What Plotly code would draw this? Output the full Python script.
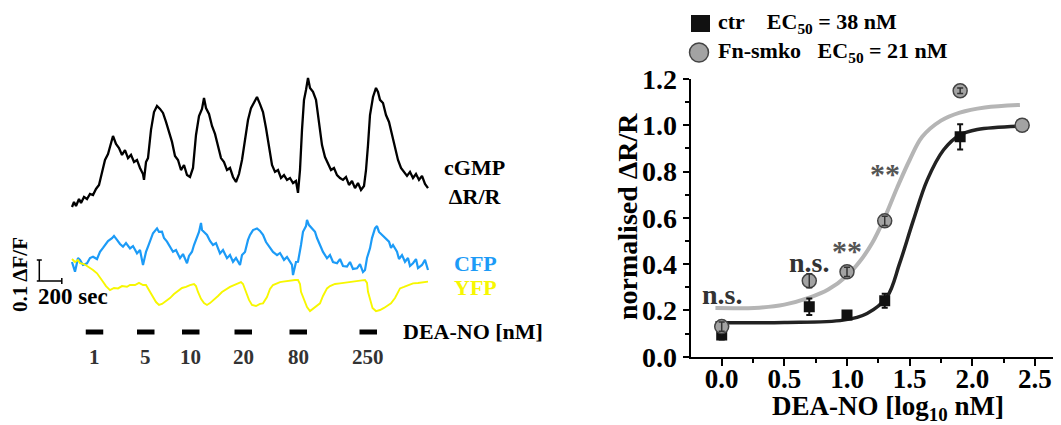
import plotly.graph_objects as go

W, H = 1061, 425
FONT = "Liberation Serif"

# ---------------- left panel: single-cell time courses ----------------
# time in seconds, values relative to trace start (0.1 = 0.1 dR/R or dF/F)
cgmp_t = [0,16,32,56,72,96,120,144,168,192,216,240,264,288,312,328,352,376,400,424,448,472,496,520,544,568,576,592,608,632,656,680,704,728,752,776,800,824,848,872,896,920,944,968,992,1016,1040,1056,1072,1096,1120,1144,1168,1192,1216,1240,1264,1288,1312,1336,1360,1384,1408,1432,1456,1480,1504,1528,1552,1576,1600,1624,1648,1672,1696,1720,1744,1768,1792,1808,1824,1840,1856,1872,1888,1904,1928,1952,1976,2000,2024,2048,2072,2096,2120,2144,2168,2192,2216,2240,2264,2288,2312,2336,2352,2368,2384,2408,2432,2448,2464,2488,2512,2536,2560,2584,2608,2632,2656,2680,2704,2728,2752,2776,2800,2824,2848]
cgmp_v = [0.000,0.024,0.005,0.038,0.019,0.048,0.038,0.062,0.057,0.086,0.105,0.167,0.224,0.252,0.305,0.338,0.300,0.281,0.248,0.271,0.233,0.248,0.214,0.224,0.186,0.157,0.129,0.214,0.233,0.367,0.452,0.481,0.467,0.448,0.405,0.352,0.310,0.243,0.224,0.176,0.200,0.152,0.143,0.186,0.343,0.433,0.467,0.519,0.471,0.443,0.386,0.348,0.286,0.233,0.214,0.176,0.186,0.143,0.119,0.157,0.224,0.319,0.414,0.471,0.500,0.524,0.490,0.452,0.376,0.281,0.200,0.167,0.176,0.138,0.152,0.129,0.138,0.114,0.124,0.067,0.176,0.367,0.510,0.557,0.614,0.567,0.548,0.510,0.414,0.295,0.238,0.210,0.176,0.186,0.152,0.138,0.129,0.143,0.105,0.124,0.090,0.114,0.081,0.100,0.176,0.295,0.438,0.524,0.567,0.548,0.510,0.495,0.438,0.405,0.343,0.295,0.224,0.186,0.167,0.148,0.167,0.138,0.157,0.129,0.148,0.110,0.090]

cfp_t = [0,24,48,64,88,120,144,168,200,224,248,264,288,320,336,360,384,408,432,464,488,520,544,568,592,608,632,648,680,696,720,736,760,784,808,832,864,888,920,936,960,976,1000,1016,1032,1040,1056,1080,1104,1128,1152,1184,1208,1240,1264,1288,1312,1344,1360,1384,1408,1424,1448,1480,1504,1528,1552,1584,1608,1640,1664,1696,1720,1760,1768,1792,1808,1832,1848,1872,1880,1896,1920,1944,1960,1984,2008,2040,2064,2088,2120,2144,2168,2200,2224,2248,2280,2304,2328,2344,2360,2384,2400,2424,2440,2456,2480,2504,2536,2552,2568,2600,2616,2640,2664,2688,2704,2728,2752,2768,2800,2824,2848]
cfp_v = [0.000,-0.046,0.019,0.010,-0.014,-0.006,0.019,0.025,0.014,0.049,0.067,0.081,0.100,0.113,0.124,0.105,0.086,0.073,0.090,0.065,0.076,0.041,0.057,-0.014,0.048,0.073,0.114,0.137,0.160,0.143,0.144,0.114,0.097,0.071,0.049,0.057,0.018,0.038,-0.006,0.029,0.049,0.081,0.113,0.143,0.186,0.152,0.143,0.129,0.100,0.081,0.090,0.041,0.057,0.018,0.033,0.001,0.019,-0.014,0.033,0.048,0.105,0.129,0.152,0.160,0.148,0.129,0.095,0.065,0.048,0.033,0.043,0.010,0.024,-0.014,-0.062,0.000,0.001,0.081,0.144,0.171,0.200,0.176,0.162,0.144,0.114,0.081,0.048,0.018,0.033,0.000,-0.006,0.014,-0.019,-0.022,0.000,-0.033,-0.030,-0.010,-0.048,-0.038,0.019,0.065,0.114,0.160,0.171,0.143,0.129,0.114,0.097,0.067,0.081,0.049,0.014,0.033,0.001,0.019,-0.019,-0.006,0.014,-0.029,-0.014,0.010,-0.038]

yfp_t = [0,24,48,64,96,120,144,168,200,224,248,272,304,336,368,400,440,464,504,536,568,592,608,632,648,672,696,720,752,784,816,848,880,912,944,976,992,1008,1032,1056,1080,1104,1136,1168,1200,1232,1264,1296,1328,1352,1368,1392,1416,1440,1472,1504,1528,1560,1584,1608,1640,1664,1688,1720,1752,1784,1808,1824,1832,1856,1880,1904,1928,1952,1984,2008,2040,2064,2104,2144,2184,2224,2248,2288,2320,2344,2360,2368,2384,2404,2432,2464,2496,2528,2552,2584,2624,2656,2688,2728,2768,2808,2848]
yfp_v = [0.000,-0.014,-0.005,-0.020,-0.024,-0.033,-0.044,-0.052,-0.068,-0.086,-0.108,-0.129,-0.148,-0.138,-0.140,-0.129,-0.132,-0.124,-0.124,-0.114,-0.124,-0.124,-0.140,-0.162,-0.181,-0.205,-0.219,-0.214,-0.200,-0.186,-0.167,-0.152,-0.138,-0.133,-0.124,-0.119,-0.129,-0.157,-0.190,-0.210,-0.219,-0.210,-0.195,-0.176,-0.157,-0.143,-0.133,-0.124,-0.114,-0.110,-0.119,-0.157,-0.195,-0.219,-0.224,-0.214,-0.211,-0.181,-0.143,-0.124,-0.114,-0.110,-0.108,-0.105,-0.100,-0.100,-0.100,-0.119,-0.156,-0.195,-0.229,-0.248,-0.238,-0.224,-0.211,-0.176,-0.140,-0.129,-0.119,-0.116,-0.112,-0.110,-0.108,-0.105,-0.102,-0.100,-0.114,-0.156,-0.195,-0.233,-0.248,-0.243,-0.233,-0.219,-0.211,-0.186,-0.140,-0.133,-0.124,-0.116,-0.114,-0.110,-0.108]

drug_conc = ["1", "5", "10", "20", "80", "250"]
drug_start = [110, 520, 880, 1300, 1740, 2300]
drug_len = 140
scale_sec = 200
scale_amp = 0.1

# ---------------- right panel: concentration-response ----------------
log_conc = [0.0, 0.699, 1.0, 1.301, 1.903, 2.398]
ctr_mean = [0.094, 0.216, 0.180, 0.242, 0.950, 1.000]
ctr_sem = [0.020, 0.036, 0.010, 0.030, 0.055, 0.0]
ko_mean = [0.130, 0.328, 0.367, 0.587, 1.149, 1.000]
ko_sem = [0.020, 0.030, 0.020, 0.020, 0.012, 0.0]

ctr_fit_x = [-0.05, 0.5, 0.97, 1.16, 1.32, 1.42, 1.53, 1.64, 1.77, 1.9, 2.04, 2.4]
ctr_fit_y = [0.147, 0.148, 0.158, 0.187, 0.259, 0.403, 0.590, 0.763, 0.893, 0.958, 0.982, 0.997]
ko_fit_x = [-0.05, 0.3, 0.5, 0.7, 0.85, 1.0, 1.1, 1.2, 1.3, 1.4, 1.5, 1.6, 1.75, 1.9, 2.1, 2.38]
ko_fit_y = [0.210, 0.212, 0.225, 0.255, 0.290, 0.350, 0.410, 0.490, 0.600, 0.730, 0.850, 0.950, 1.020, 1.055, 1.077, 1.088]

sig_x = [0.0, 0.699, 1.0, 1.301, 1.903]
sig_y = [0.267, 0.409, 0.461, 0.793, 1.217]
sig_text = ["n.s.", "n.s.", "**", "**", "n.s."]

assert len(cgmp_t) == len(cgmp_v)
assert len(cfp_t) == len(cfp_v)
assert len(yfp_t) == len(yfp_v)

# ---------------- layout geometry ----------------
# the page body adds an 8 px margin; positions below are given in window pixels
OFF = 8
PX_PER_SEC = 1 / 8.0
UNIT_PER_PX = 0.1 / 21.0
TRACE_X0_PX = 72
LEFT_W = 530.5
CGMP_BASE_PX = 207
CFP_BASE_PX = 262
YFP_BASE_PX = 259
AX2_X0, AX2_X_ZERO, AX2_PX_PER_UNIT = 690.7, 721.7, 125.3
AX2_Y_BOTTOM, AX2_Y_TOP = 356.7, 79


def fx(x):
    return (x - OFF) / W


def fy(y):
    return 1 - (y - OFF) / H


def yscr(py):
    return (H - py + OFF) * UNIT_PER_PX


BLUE = "#1c9bf7"
YELLOW = "#f7f700"

fig = go.Figure()

# left traces
fig.add_trace(go.Scatter(x=cgmp_t, y=[v + yscr(CGMP_BASE_PX) for v in cgmp_v], mode="lines",
                         line=dict(color="black", width=2.3), xaxis="x", yaxis="y", showlegend=False))
fig.add_trace(go.Scatter(x=cfp_t, y=[v + yscr(CFP_BASE_PX) for v in cfp_v], mode="lines",
                         line=dict(color=BLUE, width=2.2), xaxis="x", yaxis="y", showlegend=False))
fig.add_trace(go.Scatter(x=yfp_t, y=[v + yscr(YFP_BASE_PX) for v in yfp_v], mode="lines",
                         line=dict(color=YELLOW, width=1.9), xaxis="x", yaxis="y", showlegend=False))

# drug application bars
bx, by = [], []
for s in drug_start:
    bx += [s, s + drug_len, None]
    by += [yscr(332), yscr(332), None]
fig.add_trace(go.Scatter(x=bx, y=by, mode="lines", line=dict(color="black", width=5),
                         xaxis="x", yaxis="y", showlegend=False))

# right panel: fits
fig.add_trace(go.Scatter(x=ctr_fit_x, y=ctr_fit_y, mode="lines", line=dict(color="#222222", width=3.5, shape="spline"),
                         xaxis="x2", yaxis="y2", showlegend=False))
fig.add_trace(go.Scatter(x=ko_fit_x, y=ko_fit_y, mode="lines", line=dict(color="#b5b5b5", width=4, shape="spline"),
                         xaxis="x2", yaxis="y2", showlegend=False))
# data points
fig.add_trace(go.Scatter(x=log_conc, y=ctr_mean, mode="markers",
                         marker=dict(symbol="square", size=11, color="#111111"),
                         error_y=dict(type="data", array=ctr_sem, color="#111111", thickness=2, width=3),
                         xaxis="x2", yaxis="y2", showlegend=False))
fig.add_trace(go.Scatter(x=log_conc, y=ko_mean, mode="markers",
                         marker=dict(symbol="circle", size=14, color="#a3a3a3", line=dict(color="#444444", width=1.5)),
                         xaxis="x2", yaxis="y2", showlegend=False))
fig.add_trace(go.Scatter(x=log_conc[:-1], y=ko_mean[:-1], mode="markers",
                         marker=dict(size=1, opacity=0),
                         error_y=dict(type="data", array=ko_sem[:-1], color="#333333", thickness=1.5, width=3),
                         xaxis="x2", yaxis="y2", showlegend=False, hoverinfo="skip"))

tick_font = dict(family=FONT, size=28, color="black", weight="bold")
xtick_font = dict(family=FONT, size=27, color="black", weight="bold")

x2_left = AX2_X0 - OFF
x2_range = [(AX2_X0 - AX2_X_ZERO) / AX2_PX_PER_UNIT, (W + OFF - AX2_X_ZERO) / AX2_PX_PER_UNIT]

fig.update_layout(
    template="none",
    width=W, height=H, autosize=False,
    margin=dict(l=0, r=0, t=0, b=0, pad=0, autoexpand=False),
    paper_bgcolor="white", plot_bgcolor="rgba(0,0,0,0)",
    showlegend=False,
    xaxis=dict(domain=[0, LEFT_W / W],
               range=[(OFF - TRACE_X0_PX) / PX_PER_SEC, (LEFT_W + OFF - TRACE_X0_PX) / PX_PER_SEC],
               visible=False, fixedrange=True, automargin=False),
    yaxis=dict(domain=[0, 1], range=[0, H * UNIT_PER_PX], visible=False, fixedrange=True, automargin=False),
    xaxis2=dict(domain=[x2_left / W, 1.0], range=x2_range, anchor="y2", automargin=False,
                showline=True, linecolor="black", linewidth=2, mirror=False,
                ticks="outside", ticklen=7, tickwidth=2, tickcolor="black",
                tick0=0, dtick=0.5, tickformat=".1f", tickfont=xtick_font, ticklabelstandoff=-10,
                minor=dict(dtick=0.25, tick0=0, ticks="outside", ticklen=4, tickwidth=2, tickcolor="black"),
                showgrid=False, zeroline=False),
    yaxis2=dict(domain=[fy(AX2_Y_BOTTOM), fy(AX2_Y_TOP)], range=[0, 1.2], anchor="x2", automargin=False,
                showline=True, linecolor="black", linewidth=2,
                ticks="outside", ticklen=6, tickwidth=2, tickcolor="black",
                tick0=0, dtick=0.2, tickformat=".1f", tickfont=tick_font,
                minor=dict(dtick=0.1, tick0=0, ticks="outside", ticklen=4, tickwidth=2, tickcolor="black"),
                showgrid=False, zeroline=False),
)

ann = []


def text(x, y, s, size, color="black", xanchor="center", angle=0):
    ann.append(dict(x=fx(x), y=fy(y), xref="paper", yref="paper", text=s, showarrow=False, xanchor=xanchor,
                    yanchor="middle", textangle=angle,
                    font=dict(family=FONT, size=size, color=color, weight="bold")))


# left labels
text(474, 182, "cGMP<br>ΔR/R", 22)
text(475, 264, "CFP", 22, BLUE)
text(475, 287, "YFP", 22, YELLOW)
text(20, 275, "0.1 ΔF/F", 21, angle=-90)
text(73, 296, "200 sec", 23)
text(473, 331, "DEA-NO [nM]", 22)
for s, c in zip(drug_start, drug_conc):
    ann.append(dict(x=s + drug_len / 2, y=fy(357), xref="x", yref="paper", text=c, showarrow=False,
                    yanchor="middle", font=dict(family=FONT, size=21, color="#333333", weight="bold")))

# right labels
text(628, 217, "normalised ΔR/R", 28, angle=-90)
text(888, 408, "DEA-NO [log<sub>10</sub> nM]", 27)
text(716, 23, "ctr\u00a0\u00a0\u00a0 EC<sub>50</sub> = 38 nM", 22, xanchor="left")
text(716, 52, "Fn-smko\u00a0\u00a0 EC<sub>50</sub> = 21 nM", 22, xanchor="left")
for x, y, s in zip(sig_x, sig_y, sig_text):
    col = "#333333" if s != "**" else "#555555"
    ann.append(dict(x=x, y=y, xref="x2", yref="y2", text=s, showarrow=False, yanchor="middle",
                    font=dict(family=FONT, size=28 if s != "**" else 30, color=col, weight="bold")))
fig.update_layout(annotations=ann)

shapes = []
# scale bar (data coords of left axis)
corner_t = (39.3 - TRACE_X0_PX) / PX_PER_SEC
base_y = yscr(281)
h0 = corner_t - 20
sb = dict(color="black", width=1.5)
shapes.append(dict(type="line", xref="x", yref="y", x0=corner_t, x1=corner_t, y0=base_y, y1=base_y + scale_amp, line=sb))
shapes.append(dict(type="line", xref="x", yref="y", x0=h0, x1=h0 + scale_sec, y0=base_y, y1=base_y, line=sb))
shapes.append(dict(type="line", xref="x", yref="y", x0=h0, x1=corner_t + 20, y0=base_y + scale_amp,
                   y1=base_y + scale_amp, line=sb))
shapes.append(dict(type="line", xref="x", yref="y", x0=h0 + scale_sec, x1=h0 + scale_sec,
                   y0=base_y - 3 * UNIT_PER_PX, y1=base_y + 3 * UNIT_PER_PX, line=sb))
# legend symbols
shapes.append(dict(type="rect", xref="paper", yref="paper", x0=fx(691), x1=fx(710), y0=fy(32), y1=fy(15),
                   fillcolor="#111111", line=dict(width=0)))
shapes.append(dict(type="circle", xref="paper", yref="paper", x0=fx(689.5), x1=fx(708.5), y0=fy(62), y1=fy(43),
                   fillcolor="#a3a3a3", line=dict(color="#444444", width=1.5)))
fig.update_layout(shapes=shapes)

fig.write_html("out.html")
